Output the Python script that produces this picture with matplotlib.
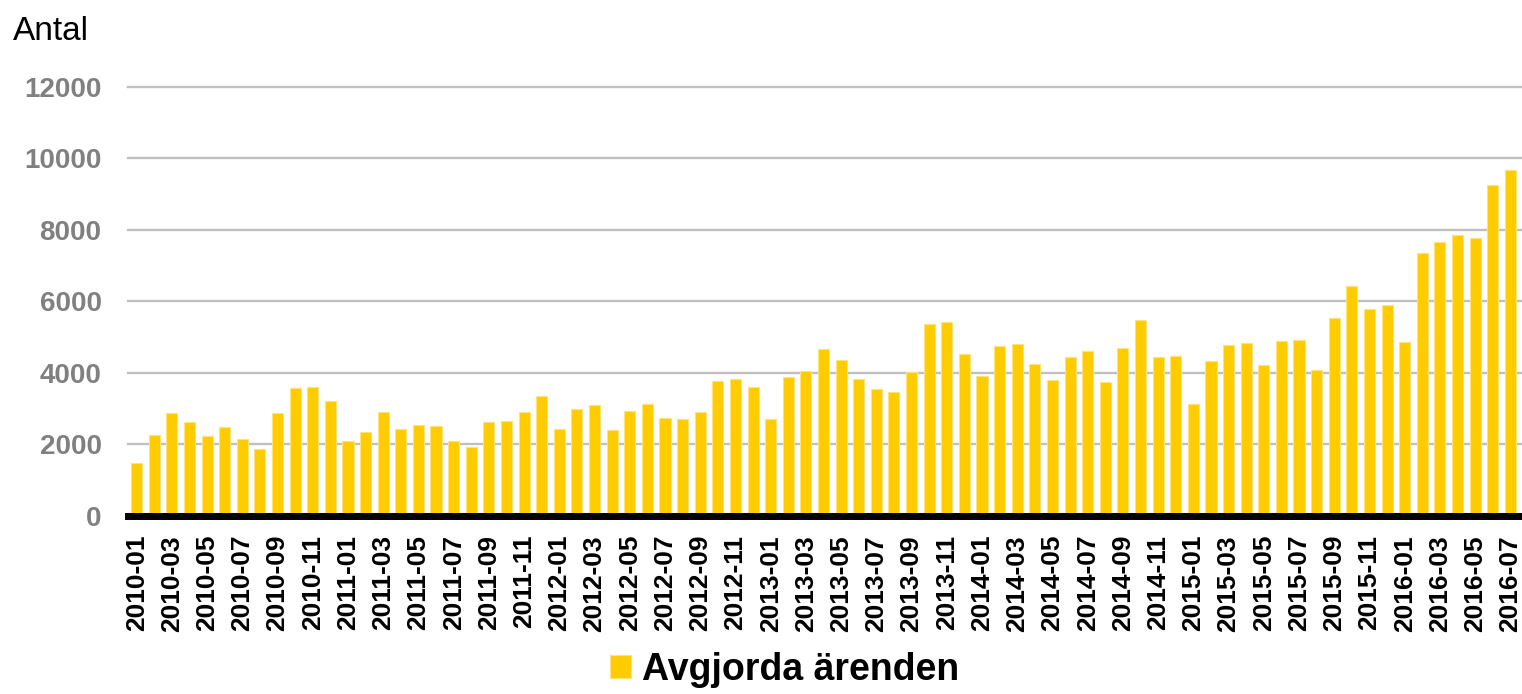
import pandas as pd
import numpy as np
import matplotlib.pyplot as plt

months = [p.strftime("%Y-%m") for p in pd.period_range("2010-01", "2016-07", freq="M")]

avgjorda = [
    1470, 2245, 2865, 2615, 2225, 2485, 2140, 1860, 2865, 3575,
    3610, 3220, 2075, 2335, 2905, 2430, 2530, 2505, 2085, 1915,
    2615, 2650, 2905, 3350, 2420, 2970, 3090, 2400, 2940, 3130,
    2735, 2700, 2885, 3755, 3820, 3595, 2690, 3875, 4040, 4665,
    4350, 3835, 3545, 3445, 4030, 5365, 5430, 4510, 3910, 4740,
    4815, 4245, 3800, 4435, 4610, 3725, 4705, 5485, 4450, 4460,
    3110, 4340, 4780, 4835, 4220, 4880, 4910, 4080, 5525, 6430,
    5775, 5905, 4870, 7340, 7660, 7855, 7770, 9270, 9665,
]

yticks = [0, 2000, 4000, 6000, 8000, 10000, 12000]

plt.rcParams["font.family"] = ["Liberation Sans", "DejaVu Sans"]

fig = plt.figure(figsize=(15.22, 6.94), dpi=100)
ax = fig.add_axes([0.0841, 0.2572, 0.9152, 0.6174])

x = np.arange(len(months))
bars = ax.bar(x, avgjorda, width=0.63, color="#FFCC00", edgecolor="#FFE27A",
              linewidth=0.8, zorder=2, label="Avgjorda ärenden")
ax.axhline(0, color="black", linewidth=5, zorder=3, clip_on=False)

ax.set_ylim(0, 12000)
ax.set_xlim(-0.49, len(months) - 0.4)
ax.set_yticks(yticks)
ax.set_yticklabels([str(v) for v in yticks], fontsize=20, fontweight="bold", color="#808080")
ax.set_xticks(x[::2])
ax.set_xticklabels(months[::2], rotation=90, fontsize=19, fontweight="bold", color="black")
ax.tick_params(axis="y", length=0, pad=19)
ax.tick_params(axis="x", length=0, pad=14)

ax.yaxis.grid(True, color="#C0C0C0", linewidth=1.7, zorder=1)
for gl in ax.get_ygridlines():
    gl.set_clip_on(False)
ax.set_axisbelow(True)
for s in ax.spines.values():
    s.set_visible(False)

fig.text(13 / 1522, 1 - 40 / 694, "Antal", fontsize=24, va="baseline", ha="left")

leg = fig.legend(handles=[bars], labels=["Avgjorda ärenden"], loc="center",
                 bbox_to_anchor=(785 / 1522, 1 - 670 / 694), frameon=False,
                 prop={"size": 27, "weight": "bold"}, handlelength=0.55,
                 handleheight=0.55, handletextpad=0.3)

fig.savefig("out.png", dpi=100)
